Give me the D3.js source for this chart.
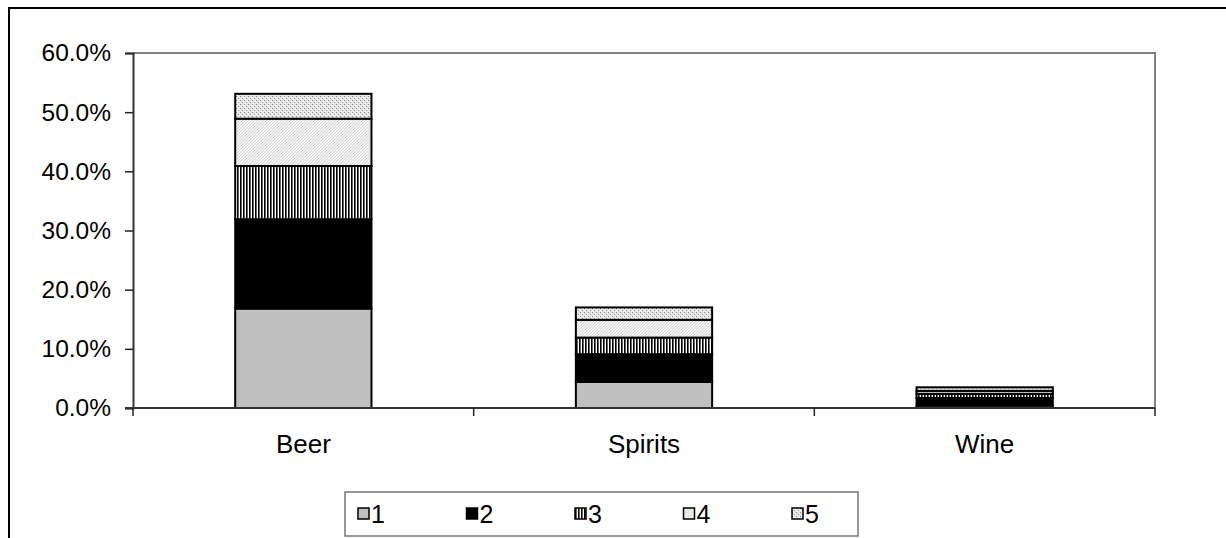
<!DOCTYPE html>
<html>
<head>
<meta charset="utf-8">
<script src="https://cdn.jsdelivr.net/npm/d3@7"></script>
<style>
  body { margin: 0; background: #fff; }
  svg text { font-family: "Liberation Sans", Arial, sans-serif; fill: #000; }
</style>
</head>
<body>
<div id="viz"></div>
<script>
// values, in percent
const categories = ["Beer", "Spirits", "Wine"]
const seriesNames = ["1", "2", "3", "4", "5"]
const s1 = [16.8, 4.4, 0.4]
const s2 = [15.1, 4.7, 1.3]
const s3 = [9.0, 2.8, 0.7]
const s4 = [8.0, 3.0, 0.5]
const s5 = [4.2, 2.1, 0.6]
const yTicks = [0, 10, 20, 30, 40, 50, 60]

function drawChart () {
    const width = 1226
    const height = 538
    const plot = {left: 133, right: 1155, top: 53, bottom: 408}

    const svg = d3.select("#viz").append("svg")
                  .attr("width", width)
                  .attr("height", height)

    // fill patterns for series 3, 4, 5
    const defs = svg.append("defs")
    const p3 = defs.append("pattern").attr("id", "p3")
                   .attr("patternUnits", "userSpaceOnUse").attr("width", 3).attr("height", 3)
    p3.append("rect").attr("width", 3).attr("height", 3).attr("fill", "#fff")
    p3.append("rect").attr("width", 1.6).attr("height", 3).attr("fill", "#000")

    const p4 = defs.append("pattern").attr("id", "p4")
                   .attr("patternUnits", "userSpaceOnUse").attr("width", 3).attr("height", 3)
    p4.append("rect").attr("width", 3).attr("height", 3).attr("fill", "#f4f4f4")
    p4.append("path").attr("d", "M0,3 L3,0").attr("stroke", "#c4c4c4").attr("stroke-width", 0.7)

    const p5 = defs.append("pattern").attr("id", "p5")
                   .attr("patternUnits", "userSpaceOnUse").attr("width", 4).attr("height", 4)
    p5.append("rect").attr("width", 4).attr("height", 4).attr("fill", "#e6e6e6")
    p5.append("rect").attr("x", 0).attr("y", 0).attr("width", 1).attr("height", 1).attr("fill", "#8a8a8a")
    p5.append("rect").attr("x", 2).attr("y", 2).attr("width", 1).attr("height", 1).attr("fill", "#999")
    p5.append("rect").attr("x", 3).attr("y", 1).attr("width", 1).attr("height", 1).attr("fill", "#fff")
    p5.append("rect").attr("x", 1).attr("y", 3).attr("width", 1).attr("height", 1).attr("fill", "#fff")

    const fills = ["#c0c0c0", "#000", "url(#p3)", "url(#p4)", "url(#p5)"]

    // outer frame (runs off the right and bottom of the picture)
    svg.append("path").attr("d", `M9,${height} V8 H${width}`)
       .attr("fill", "none").attr("stroke", "#000").attr("stroke-width", 2)

    const xScale = d3.scaleBand().domain(categories).range([plot.left, plot.right]).padding(0)
    const yScale = d3.scaleLinear().domain([0, 60]).range([plot.bottom, plot.top])

    // plot area border, grey on top and right
    svg.append("path").attr("d", `M${plot.left},${plot.top} H${plot.right} V${plot.bottom}`)
       .attr("fill", "none").attr("stroke", "#808080").attr("stroke-width", 2)

    // stacked data
    const table = categories.map((c, i) => ({cat: c, "1": s1[i], "2": s2[i], "3": s3[i], "4": s4[i], "5": s5[i]}))
    const stacked = d3.stack().keys(seriesNames)(table)

    const barW = xScale.bandwidth() * 0.4
    svg.append("g").selectAll("g")
       .data(stacked)
       .join("g")
       .attr("fill", (d, i) => fills[i])
       .selectAll("rect")
       .data(d => d)
       .join("rect")
       .attr("x", d => xScale(d.data.cat) + (xScale.bandwidth() - barW) / 2)
       .attr("y", d => yScale(d[1]))
       .attr("width", barW)
       .attr("height", d => yScale(d[0]) - yScale(d[1]))
       .attr("stroke", "#000")
       .attr("stroke-width", 2)

    // y axis
    const yAxis = d3.axisLeft(yScale).tickValues(yTicks)
                    .tickFormat(d => d.toFixed(1) + "%")
                    .tickSize(8).tickPadding(14)
    const ya = svg.append("g").attr("transform", `translate(${plot.left},0)`).call(yAxis)
    ya.attr("font-size", 24.5).attr("font-family", "Liberation Sans, Arial, sans-serif")
    ya.select(".domain").attr("stroke", "#333").attr("stroke-width", 2)
    ya.selectAll(".tick line").attr("stroke", "#222").attr("stroke-width", 1.5)

    // x axis: category labels, ticks at band edges
    const xa = svg.append("g").attr("transform", `translate(0,${plot.bottom})`)
                  .call(d3.axisBottom(xScale).tickSize(0).tickPadding(27))
    xa.attr("font-size", 26).attr("font-family", "Liberation Sans, Arial, sans-serif")
    xa.select(".domain").attr("stroke", "#333").attr("stroke-width", 2)
      .attr("d", `M${plot.left - 8},0 H${plot.right}`)
    const edges = categories.map(c => xScale(c)).concat([xScale.range()[1]])
    xa.selectAll(".edge").data(edges).join("line")
      .attr("x1", d => d).attr("x2", d => d)
      .attr("y1", 0).attr("y2", 8)
      .attr("stroke", "#222").attr("stroke-width", 1.5)

    // legend
    const legend = svg.append("g").attr("transform", "translate(345,492)")
    legend.append("rect").attr("width", 513).attr("height", 44)
          .attr("fill", "#fff").attr("stroke", "#777").attr("stroke-width", 1.5)
    const item = legend.selectAll(".item").data(seriesNames).join("g")
                       .attr("transform", (d, i) => `translate(${13 + i * 108.5},0)`)
    item.append("rect").attr("y", 16).attr("width", 11).attr("height", 11)
        .attr("fill", (d, i) => fills[i]).attr("stroke", "#000").attr("stroke-width", 1.5)
    item.append("text").attr("x", 13).attr("y", 31).style("font-size", "25px").text(d => d)
}

drawChart()
</script>
</body>
</html>
